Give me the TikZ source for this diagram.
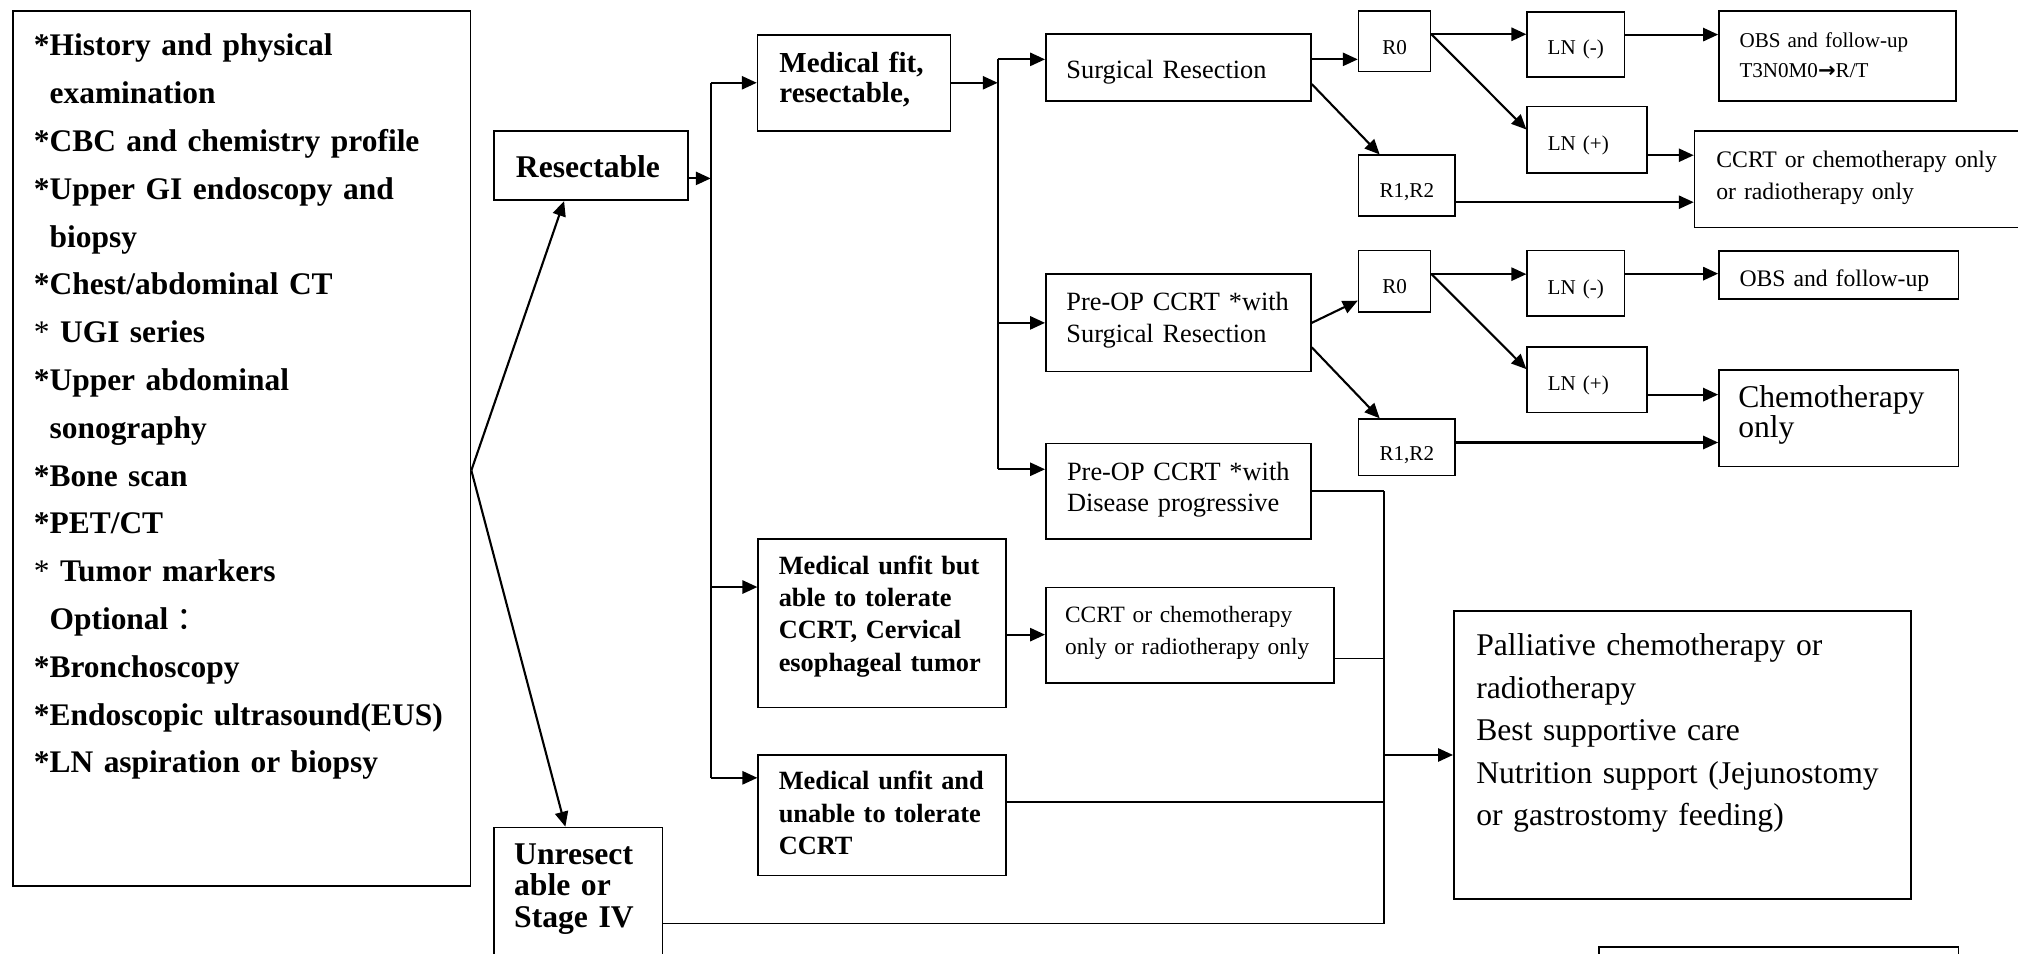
\documentclass[tikz,border=0pt]{standalone}
\usepackage{fontspec}
\setmainfont{Liberation Serif}
\newfontfamily\cjkfont{Noto Sans CJK SC}
\newfontfamily\arrowfont{DejaVu Sans}
\usetikzlibrary{arrows.meta}
\newlength{\pxu}
\setlength{\pxu}{0.02574cm}
\newcommand{\fsz}[2]{\fontsize{#1}{#2}\selectfont}
\tikzset{
	box/.style={draw, line width=0.9pt, inner ysep=0pt, anchor=north west, align=left},
	tb/.style n args={4}{text width=#1\pxu, inner xsep=#2\pxu, text height=#3\pxu, text depth=#4\pxu},
	small/.style={align=center, font=\fsz{12}{14}},
	arr/.style={-{Triangle[length=8.5pt,width=7.5pt]}, line width=1.2pt},
	bus/.style={line width=1.2pt},
	link/.style={line width=0.9pt},
}
\begin{document}
\begin{tikzpicture}[x=0.02574cm, y=-0.02574cm]
	\useasboundingbox (0,0) rectangle (1568,741);
	\clip (0,0) rectangle (1568,741);
	\node[box, tb={323.3}{16}{35}{645.2}, font=\fsz{17.9}{27.2}\bfseries] (info) at (9.7,7.8) {{}*History and physical\\{}\phantom{*}examination\\{}*CBC and chemistry profile\\{}*Upper GI endoscopy and\\{}\phantom{*}biopsy\\{}*Chest/abdominal CT\\{}\textmd{*} UGI series\\{}*Upper abdominal\\{}\phantom{*}sonography\\{}*Bone scan\\{}*PET/CT\\{}\textmd{*} Tumor markers\\{}\phantom{*}Optional\hspace{0.25em}{\cjkfont\mdseries ：}\\{}*Bronchoscopy\\{}*Endoscopic ultrasound(EUS)\\{}*LN aspiration or biopsy};
	\node[box, tb={116.7}{17}{36}{18}, font=\fsz{18}{22}\bfseries] (resect) at (383.3,101) {Resectable};
	\node[box, tb={99.6}{15.6}{28.5}{120.9}, font=\fsz{18}{18}\bfseries] (unres) at (383.3,642.3) {Unresect\\ able or\\ Stage IV};
	\node[box, tb={116}{17}{29.3}{45.3}, font=\fsz{16.5}{17.1}\bfseries] (medfit) at (588,26.4) {Medical fit,\\ resectable,};
	\node[box, tb={160.5}{16}{27.5}{103.5}, font=\fsz{15}{18.4}\bfseries] (able) at (588.5,418) {Medical unfit but\\ able to tolerate\\ CCRT, Cervical\\ esophageal tumor};
	\node[box, tb={160.5}{16}{27}{66.5}, font=\fsz{15}{18.4}\bfseries] (unable) at (588.5,586) {Medical unfit and\\ unable to tolerate\\ CCRT};
	\node[box, tb={174}{16}{34}{18}, font=\fsz{15}{17.9}] (surg) at (812,26) {Surgical Resection};
	\node[box, tb={174}{16}{28.5}{47}, font=\fsz{15}{17.9}] (preop) at (812,212.5) {Pre-OP CCRT *with\\ Surgical Resection};
	\node[box, tb={173}{16.5}{28.4}{45.6}, font=\fsz{15}{17.9}] (disease) at (812,344) {Pre-OP CCRT *with\\ Disease progressive};
	\node[box, tb={194}{15}{27}{47}, font=\fsz{13.3}{18.3}] (midccrt) at (812,456) {CCRT or chemotherapy\\ only or radiotherapy only};
	\node[box, small, tb={48}{4}{33.5}{13.5}] (r0a) at (1055,8) {R0};
	\node[box, small, tb={67}{4}{33}{14}] (r12a) at (1055,120) {R1,R2};
	\node[box, small, tb={67.5}{4}{33.5}{17}] (lnma) at (1186,8.5) {LN (-)};
	\node[box, tb={61}{16}{34.6}{17.4}, font=\fsz{12}{14}] (lnpa) at (1186,82) {LN (+)};
	\node[box, tb={152}{16}{28.3}{41.7}, font=\fsz{12}{17}] (obsa) at (1335,8) {OBS and follow-up\\ T3N0M0{\arrowfont\bfseries →}R/T};
	\node[box, tb={218}{17}{28.5}{46.5}, font=\fsz{13.5}{18}] (ccrta) at (1316,101) {CCRT or chemotherapy only\\ or radiotherapy only};
	\node[box, small, tb={48}{4}{33.4}{14.6}] (r0b) at (1055,194) {R0};
	\node[box, small, tb={67}{4}{32.4}{11.6}] (r12b) at (1055,325) {R1,R2};
	\node[box, small, tb={67.5}{4}{33.9}{17.1}] (lnmb) at (1186,194) {LN (-)};
	\node[box, tb={61}{16}{33.5}{17.5}, font=\fsz{12}{14}] (lnpb) at (1186,269) {LN (+)};
	\node[box, tb={154}{16}{27.6}{9.8}, font=\fsz{13.5}{16}] (obsb) at (1335,194.4) {OBS and follow-up};
	\node[box, tb={156}{15}{29}{46}, font=\fsz{18}{17.1}] (chemo) at (1335,287) {Chemotherapy\\ only};
	\node[box, tb={320}{17.5}{35}{189}, font=\fsz{18}{24.2}] (palli) at (1129,474) {Palliative chemotherapy or\\ radiotherapy\\ Best supportive care\\ Nutrition support (Jejunostomy\\ or gastrostomy feeding)};
	\node[box, inner sep=0pt, minimum width=279\pxu, minimum height=60\pxu] (next) at (1242,735) {};

	\coordinate (split) at ([yshift=-17\pxu]info.east);
	\draw[arr] (split) -- ([xshift=55\pxu]resect.south west);
	\draw[arr] (split) -- ([xshift=56\pxu]unres.north west);

	\draw[arr] ([yshift=-10\pxu]resect.east) -- ++(17,0) coordinate (bus1);
	\coordinate (inAble) at ([yshift=28\pxu]able.west);
	\coordinate (inUnable) at ([yshift=29\pxu]unable.west);
	\draw[bus] (bus1 |- medfit.west) -- (bus1 |- inUnable);
	\draw[arr] (bus1 |- medfit.west) -- (medfit.west);
	\draw[arr] (bus1 |- inAble) -- (inAble);
	\draw[arr] (bus1 |- inUnable) -- (inUnable);

	\draw[arr] (medfit.east) -- ++(36,0) coordinate (bus2);
	\coordinate (inSurg) at ([yshift=6.5\pxu]surg.west);
	\coordinate (inDis) at ([yshift=17\pxu]disease.west);
	\draw[bus] (bus2 |- inSurg) -- (bus2 |- inDis);
	\draw[arr] (bus2 |- inSurg) -- (inSurg);
	\draw[arr] (bus2 |- preop.west) -- (preop.west);
	\draw[arr] (bus2 |- inDis) -- (inDis);

	\coordinate (outSurg) at ([yshift=6.5\pxu]surg.east);
	\draw[arr] (outSurg) -- (outSurg -| r0a.west);
	\draw[arr] ([yshift=-12.7\pxu]surg.east) -- ([xshift=17\pxu]r12a.north west);
	\coordinate (outR0a) at ([yshift=5.5\pxu]r0a.east);
	\draw[arr] (outR0a) -- (outR0a -| lnma.west);
	\draw[arr] (outR0a) -- ([yshift=8\pxu]lnpa.west);
	\coordinate (outLNma) at ([yshift=7.5\pxu]lnma.east);
	\draw[arr] (outLNma) -- (outLNma -| obsa.west);
	\coordinate (outLNpa) at ([yshift=-12\pxu]lnpa.east);
	\draw[arr] (outLNpa) -- (outLNpa -| ccrta.west);
	\coordinate (outR12a) at ([yshift=-13\pxu]r12a.east);
	\draw[arr] (outR12a) -- (outR12a -| ccrta.west);

	\draw[arr] (preop.east) -- ([yshift=-15\pxu]r0b.west);
	\draw[arr] ([yshift=-19\pxu]preop.east) -- ([xshift=17\pxu]r12b.north west);
	\coordinate (outR0b) at ([yshift=5.6\pxu]r0b.east);
	\draw[arr] (outR0b) -- (outR0b -| lnmb.west);
	\draw[arr] (outR0b) -- ([yshift=8.3\pxu]lnpb.west);
	\coordinate (outLNmb) at ([yshift=7.5\pxu]lnmb.east);
	\draw[arr] (outLNmb) -- (outLNmb -| obsb.west);
	\coordinate (outLNpb) at ([yshift=-11.5\pxu]lnpb.east);
	\draw[arr] (outLNpb) -- (outLNpb -| chemo.west);
	\coordinate (outR12b) at ([yshift=3.8\pxu]r12b.east);
	\draw[arr] (outR12b) -- (outR12b -| chemo.west);

	\coordinate (outAble) at ([yshift=-9\pxu]able.east);
	\draw[arr] (outAble) -- (outAble -| midccrt.west);

	\draw[link] (disease.east) -- ++(56,0) coordinate (coll);
	\draw[link] (coll) -- (coll |- unres.east) -- (unres.east);
	\coordinate (outMid) at ([yshift=-18\pxu]midccrt.east);
	\draw[link] (outMid) -- (outMid -| coll);
	\coordinate (outUnable) at ([yshift=10\pxu]unable.east);
	\draw[link] (outUnable) -- (outUnable -| coll);
	\draw[arr] (coll |- palli.west) -- (palli.west);
\end{tikzpicture}
\end{document}
